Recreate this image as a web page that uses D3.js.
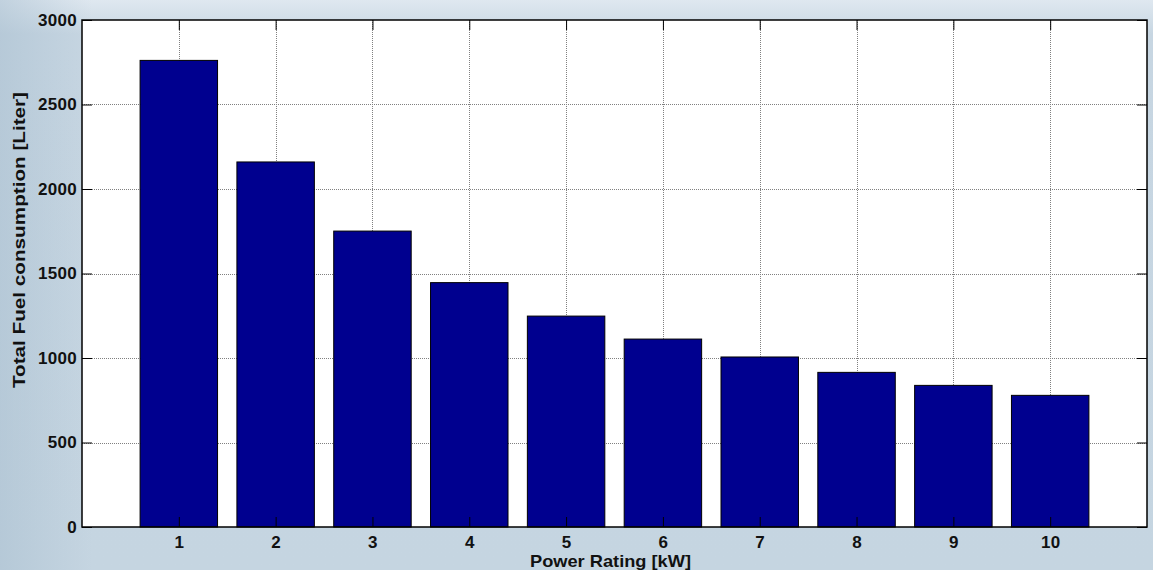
<!DOCTYPE html>
<html>
<head>
<meta charset="utf-8">
<script src="https://cdn.jsdelivr.net/npm/d3@7"></script>
<style>
  html, body { margin: 0; padding: 0; background: #c4d4e0; }
  svg { display: block; }
  text { font-family: "Liberation Sans", Arial, sans-serif; font-weight: bold; fill: #111; }
</style>
</head>
<body>
<svg id="chart" width="1153" height="570"></svg>
<script>
// Power rating categories (kW) and the total fuel used for each
const ratings = [1, 2, 3, 4, 5, 6, 7, 8, 9, 10];
const fuelLiters = [2761, 2160, 1751, 1446, 1248, 1112, 1006, 915, 838, 779];
const yTicks = [0, 500, 1000, 1500, 2000, 2500, 3000];

const W = 1153, H = 570;
const plot = { left: 82, right: 1147, top: 20, bottom: 527 };

const svg = d3.select("#chart");

// soft blue backdrop behind the axes
const defs = svg.append("defs");
const vg = defs.append("linearGradient").attr("id", "bgV").attr("x1", 0).attr("y1", 0).attr("x2", 0).attr("y2", 1);
vg.append("stop").attr("offset", "0").attr("stop-color", "#dfe8f0");
vg.append("stop").attr("offset", "0.03").attr("stop-color", "#d3dfe9");
vg.append("stop").attr("offset", "0.06").attr("stop-color", "#c7d6e2");
vg.append("stop").attr("offset", "1").attr("stop-color", "#c5d5e1");
const hg = defs.append("linearGradient").attr("id", "bgH").attr("x1", 0).attr("y1", 0).attr("x2", 1).attr("y2", 0);
hg.append("stop").attr("offset", "0").attr("stop-color", "#a9bfd0").attr("stop-opacity", 0.55);
hg.append("stop").attr("offset", "0.08").attr("stop-color", "#a9bfd0").attr("stop-opacity", 0);
hg.append("stop").attr("offset", "1").attr("stop-color", "#a9bfd0").attr("stop-opacity", 0);
svg.append("rect").attr("width", W).attr("height", H).attr("fill", "url(#bgV)");
svg.append("rect").attr("width", W).attr("height", H).attr("fill", "url(#bgH)");

const x = d3.scaleLinear().domain([0, ratings.length + 1]).range([plot.left, plot.right]);
const y = d3.scaleLinear().domain([0, 3000]).range([plot.bottom, plot.top]);

// white axes area
svg.append("rect")
  .attr("x", plot.left).attr("y", plot.top)
  .attr("width", plot.right - plot.left).attr("height", plot.bottom - plot.top)
  .attr("fill", "#ffffff");

// dotted grid
const grid = svg.append("g").attr("stroke", "#808080").attr("stroke-width", 1).attr("stroke-dasharray", "1,1");
grid.selectAll("line.gx").data(ratings).join("line")
  .attr("x1", d => Math.round(x(d)) + 0.5).attr("x2", d => Math.round(x(d)) + 0.5)
  .attr("y1", plot.top).attr("y2", plot.bottom);
grid.selectAll("line.gy").data(yTicks.slice(1, -1)).join("line")
  .attr("x1", plot.left).attr("x2", plot.right)
  .attr("y1", d => Math.round(y(d)) + 0.5).attr("y2", d => Math.round(y(d)) + 0.5);

// bars, 0.8 of the category spacing wide
const barW = x(0.8) - x(0);
svg.append("g").selectAll("rect").data(ratings).join("rect")
  .attr("x", (d, i) => x(d) - barW / 2)
  .attr("y", (d, i) => y(fuelLiters[i]))
  .attr("width", barW)
  .attr("height", (d, i) => y(0) - y(fuelLiters[i]))
  .attr("fill", "#00008f")
  .attr("stroke", "#000")
  .attr("stroke-width", 1);

// axes: ticks point inward on all four sides
const tickLen = 10;
const axB = svg.append("g").attr("transform", `translate(0,${plot.bottom})`)
  .call(d3.axisBottom(x).tickValues(ratings).tickSize(-tickLen).tickPadding(18).tickFormat(d3.format("d")));
const axT = svg.append("g").attr("transform", `translate(0,${plot.top})`)
  .call(d3.axisTop(x).tickValues(ratings).tickSize(-tickLen).tickFormat(""));
const axL = svg.append("g").attr("transform", `translate(${plot.left},0)`)
  .call(d3.axisLeft(y).tickValues(yTicks).tickSize(-tickLen).tickPadding(5).tickFormat(d3.format("d")));
const axR = svg.append("g").attr("transform", `translate(${plot.right},0)`)
  .call(d3.axisRight(y).tickValues(yTicks).tickSize(-tickLen).tickFormat(""));

[axB, axT, axL, axR].forEach(a => {
  a.select(".domain").remove();
  a.selectAll(".tick line").attr("stroke", "#000").attr("stroke-width", 1);
  a.selectAll("text").attr("font-size", 17).attr("font-family", null).attr("fill", "#111")
    .attr("letter-spacing", 0.3);
});
axB.selectAll("text").attr("dy", "0.15em");

// box around the axes
svg.append("rect")
  .attr("x", plot.left).attr("y", plot.top)
  .attr("width", plot.right - plot.left).attr("height", plot.bottom - plot.top)
  .attr("fill", "none").attr("stroke", "#000").attr("stroke-width", 1.5);

// axis titles
svg.append("text")
  .attr("x", 610.5).attr("y", 567)
  .attr("text-anchor", "middle").attr("font-size", 17)
  .attr("textLength", 161).attr("lengthAdjust", "spacingAndGlyphs")
  .text("Power Rating [kW]");
svg.append("text")
  .attr("transform", "translate(25,240) rotate(-90)")
  .attr("text-anchor", "middle").attr("font-size", 17)
  .attr("textLength", 296).attr("lengthAdjust", "spacingAndGlyphs")
  .text("Total Fuel consumption [Liter]");
</script>
</body>
</html>
